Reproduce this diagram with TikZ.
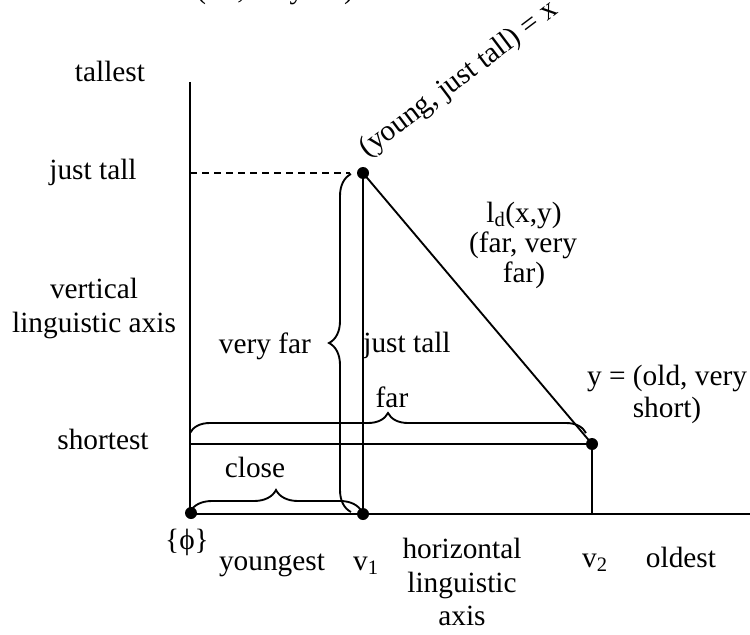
\documentclass[tikz,border=0pt]{standalone}
\usepackage{fontspec}
\setmainfont{Liberation Serif}
\usetikzlibrary{decorations.pathreplacing}
\begin{document}
\begin{tikzpicture}[x=0.75pt,y=-0.75pt,
  lbl/.style={font=\fontsize{22}{25}\selectfont, inner sep=0pt, anchor=base},
  ln/.style={line width=1.4pt},
  dashln/.style={line width=1.4pt, dash pattern=on 5.5pt off 3.5pt},
  dot/.style={circle, fill=black, inner sep=0pt, minimum size=9pt},
  bracel/.style={decorate, decoration={brace, amplitude=#1}, line width=1.4pt},
]
\useasboundingbox (0,0) rectangle (750,635);
\clip (0,0) rectangle (750,635);

% key points
\coordinate (top) at (190,82);
\coordinate (O) at (190,514);
\coordinate (right) at (750,514);
\coordinate (V1) at (363,514);
\coordinate (X) at (363,173);
\coordinate (Y) at (592,444);
\coordinate (V2) at (592,514);
\coordinate (S0) at (190,444);
\coordinate (J0) at (190,173);
\coordinate (J1) at (350,173);

% axes and lines
\draw[ln] (top) -- (O) -- (right);
\draw[dashln] (J0) -- (J1);
\draw[ln] (X) -- (V1);
\draw[ln] (X) -- (Y);
\draw[ln] (S0) -- (Y) -- (V2);

% braces
\coordinate (fb0) at (190,433);
\coordinate (fb1) at (586,433);
\draw[bracel=15pt] (fb0) -- (fb1);
\coordinate (cb0) at (190,512);
\coordinate (cb1) at (362,512);
\draw[bracel=16.5pt] (cb0) -- (cb1);
\coordinate (vb0) at (351,512);
\coordinate (vb1) at (351,174);
\draw[bracel=16.5pt] (vb0) -- (vb1);

% dots
\node[dot] (phidot) at (191,513) {};
\node[dot] (v1dot) at (V1) {};
\node[dot] (xdot) at (X) {};
\node[dot] (ydot) at (Y) {};

% labels
\node[lbl, anchor=base west] (topcut) at (196,-1.5) {(far, very far)};
\node[lbl] (tallest) at (110,82) {tallest};
\node[lbl] (justtallL) at (93,179) {just tall};
\node[lbl] (vert1) at (94,298) {vertical};
\node[lbl] (vert2) at (94,332) {linguistic axis};
\node[lbl] (shortest) at (103,449) {shortest};
\node[lbl] (veryfar) at (265,353) {very far};
\node[lbl] (justtallM) at (407,352) {just tall};
\node[lbl] (far) at (392,407) {far};
\node[lbl] (close) at (255,477) {close};
\node[lbl] (phi) at (187,549) {\{ϕ\}};
\node[lbl] (youngest) at (272,570) {youngest};
\node[lbl] (v1) at (366,570) {v\textsubscript{1}};
\node[lbl] (hor1) at (462,558) {horizontal};
\node[lbl] (hor2) at (462,592) {linguistic};
\node[lbl] (hor3) at (462,625) {axis};
\node[lbl] (v2) at (595,567) {v\textsubscript{2}};
\node[lbl] (oldest) at (681,567) {oldest};
\node[lbl] (yeq1) at (667,385) {y = (old, very};
\node[lbl] (yeq2) at (667,417) {short)};
\node[lbl] (ld1) at (524,222) {l\textsubscript{d}(x,y)};
\node[lbl] (ld2) at (523,252) {(far, very};
\node[lbl] (ld3) at (524,282) {far)};
\node[lbl, anchor=base west, rotate=37] (xlabel) at (367,158) {(young, just tall) = x};
\end{tikzpicture}
\end{document}
